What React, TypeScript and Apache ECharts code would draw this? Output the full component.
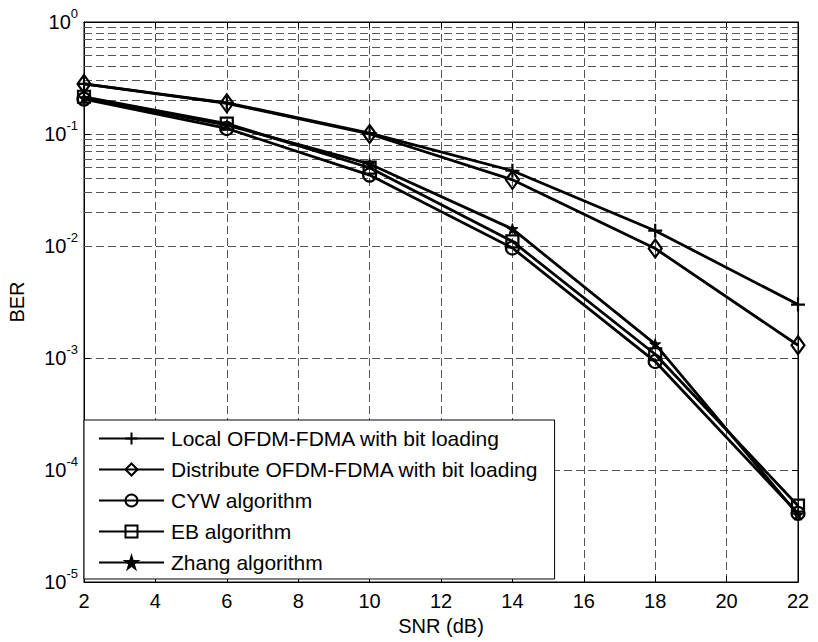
import React, { useEffect, useRef } from "react";
import * as echarts from "echarts";

const snr = [2, 6, 10, 14, 18, 22];
const localBER = [0.28, 0.19, 0.102, 0.047, 0.0137, 0.003];
const distributeBER = [0.28, 0.188, 0.1, 0.039, 0.0095, 0.0013];
const cywBER = [0.205, 0.112, 0.043, 0.0096, 0.00093, 0.000041];
const ebBER = [0.215, 0.124, 0.05, 0.011, 0.00108, 0.000048];
const zhangBER = [0.21, 0.12, 0.054, 0.0142, 0.00133, 0.00004];

const seriesNames = [
  "Local OFDM-FDMA with bit loading",
  "Distribute OFDM-FDMA with bit loading",
  "CYW algorithm",
  "EB algorithm",
  "Zhang algorithm",
];
const xTicks = [2, 4, 6, 8, 10, 12, 14, 16, 18, 20, 22];
const yDecades = [-5, -4, -3, -2, -1, 0];
const minorMultipliers = [2, 3, 4, 5, 6, 7, 8, 9];

const FONT = "'Liberation Sans', Arial, Helvetica, sans-serif";

const PLUS = "path://M0,50 L100,50 M50,0 L50,100";
const STAR =
  "path://M50,0 L61,35 L98,35 L68,57 L79,91 L50,70 L21,91 L32,57 L2,35 L39,35 Z";

export default function App() {
  const ref = useRef<HTMLDivElement>(null);
  useEffect(() => {
    if (!ref.current) return;
    const chart = echarts.init(ref.current, undefined, { renderer: "svg" });

    const minorLines: { yAxis: number }[] = [];
    yDecades.slice(0, -1).forEach((e) => {
      minorMultipliers.forEach((m) => {
        minorLines.push({ yAxis: m * Math.pow(10, e) });
      });
    });

    const gridLineStyle = { color: "#555", type: [8, 4] as any, width: 1 };

    const mk = (
      name: string,
      data: number[],
      symbol: string,
      size: number | number[],
      filled: boolean
    ) => ({
      name,
      type: "line",
      data: snr.map((x, i) => [x, data[i]]),
      symbol,
      symbolSize: size,
      showAllSymbol: true,
      z: 5,
      lineStyle: { color: "#000", width: 2.8 },
      itemStyle: filled
        ? { color: "#000", borderColor: "#000", borderWidth: 1 }
        : { color: "rgba(0,0,0,0)", borderColor: "#000", borderWidth: 2.2 },
    });

    chart.setOption({
      animation: false,
      backgroundColor: "#fff",
      textStyle: { fontFamily: FONT },
      grid: {
        left: 84,
        right: 20,
        top: 22,
        bottom: 60,
        show: true,
        borderColor: "#000",
        borderWidth: 1,
        backgroundColor: "transparent",
        containLabel: false,
        outerBoundsMode: "none",
      },
      legend: {
        data: seriesNames,
        orient: "vertical",
        left: 84,
        top: 420,
        padding: [8, 16, 6, 14],
        itemWidth: 65,
        itemHeight: 15,
        itemGap: 10,
        backgroundColor: "#fff",
        borderColor: "#000",
        borderWidth: 1,
        borderRadius: 0,
        selectedMode: false,
        textStyle: {
          fontFamily: FONT,
          fontSize: 21,
          lineHeight: 20,
          color: "#000",
          padding: [0, 0, 0, 2],
        },
      },
      xAxis: [
        {
          type: "value",
          min: 2,
          max: 22,
          interval: 2,
          name: "SNR (dB)",
          nameLocation: "middle",
          nameGap: 34,
          nameTextStyle: { fontFamily: FONT, fontSize: 20, color: "#000" },
          axisLine: { show: true, lineStyle: { color: "#000", width: 1 } },
          axisTick: { show: true, inside: true, length: 6, lineStyle: { color: "#000" } },
          axisLabel: {
            fontFamily: FONT,
            fontSize: 20,
            color: "#000",
            margin: 9,
            formatter: (v: number) => (xTicks.includes(v) ? String(v) : ""),
          },
          splitLine: { show: true, lineStyle: gridLineStyle },
        },
        {
          type: "value",
          position: "top",
          min: 2,
          max: 22,
          interval: 2,
          axisLine: { show: true, lineStyle: { color: "#000", width: 1 } },
          axisTick: { show: true, inside: true, length: 6, lineStyle: { color: "#000" } },
          axisLabel: { show: false },
          splitLine: { show: false },
        },
      ],
      yAxis: [
        {
          type: "log",
          logBase: 10,
          min: 1e-5,
          max: 1,
          splitNumber: 5,
          name: "BER",
          nameLocation: "middle",
          nameGap: 57,
          nameTextStyle: { fontFamily: FONT, fontSize: 20, color: "#000" },
          axisLine: { show: true, lineStyle: { color: "#000", width: 1 } },
          axisTick: { show: true, inside: true, length: 6, lineStyle: { color: "#000" } },
          axisLabel: {
            margin: 6,
            formatter: (v: number) => {
              const e = Math.round(Math.log10(v));
              return yDecades.includes(e) ? `{b|10}{s|${e}}` : "";
            },
            rich: {
              b: { fontFamily: FONT, fontSize: 20, lineHeight: 30, color: "#000" },
              s: {
                fontFamily: FONT,
                fontSize: 13,
                lineHeight: 14,
                verticalAlign: "top",
                color: "#000",
              },
            },
          },
          splitLine: { show: true, lineStyle: gridLineStyle },
        },
        {
          type: "log",
          logBase: 10,
          min: 1e-5,
          max: 1,
          splitNumber: 5,
          position: "right",
          axisLine: { show: true, lineStyle: { color: "#000", width: 1 } },
          axisTick: { show: true, inside: true, length: 6, lineStyle: { color: "#000" } },
          axisLabel: { show: false },
          splitLine: { show: false },
        },
      ],
      series: [
        {
          name: "minor-grid",
          type: "line",
          data: [],
          z: 1,
          silent: true,
          markLine: {
            silent: true,
            symbol: ["none", "none"],
            label: { show: false },
            lineStyle: gridLineStyle,
            emphasis: { disabled: true },
            data: minorLines,
          },
        },
        mk(seriesNames[0], localBER, PLUS, 14, false),
        mk(seriesNames[1], distributeBER, "diamond", [13, 18], false),
        mk(seriesNames[2], cywBER, "circle", 13, false),
        mk(seriesNames[3], ebBER, "rect", 12, false),
        mk(seriesNames[4], zhangBER, STAR, 11, true),
      ],
    });
    return () => chart.dispose();
  }, []);
  return (
    <div
      ref={ref}
      style={{ position: "fixed", left: 0, top: 0, width: 818, height: 642, background: "#fff" }}
    />
  );
}
